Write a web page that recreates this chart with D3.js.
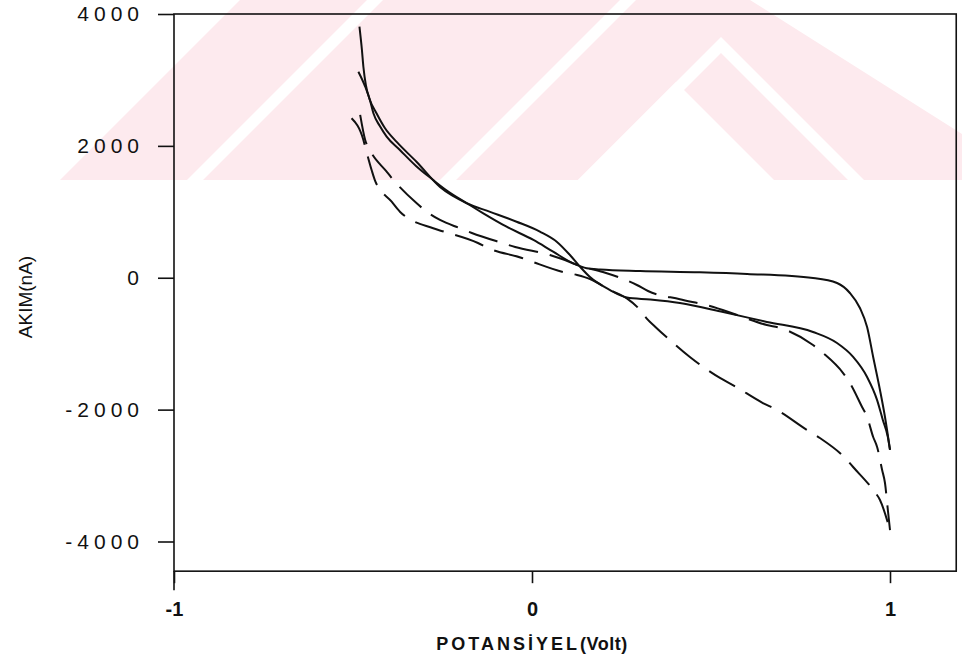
<!DOCTYPE html>
<html>
<head>
<meta charset="utf-8">
<script src="https://cdn.jsdelivr.net/npm/d3@7/dist/d3.min.js"></script>
<style>
  body { margin: 0; background: #fff; }
  svg { display: block; }
  text { font-family: "Liberation Sans", Arial, sans-serif; fill: #111; }
</style>
</head>
<body>
<div class="chart"></div>
<script>
// values: [potential (V), current (nA)]
const solidMid = [
  [-0.482, 3810], [-0.475, 3450], [-0.471, 3200], [-0.464, 2920], [-0.453, 2700],
  [-0.434, 2490], [-0.411, 2270], [-0.378, 2060], [-0.322, 1755], [-0.257, 1376],
  [-0.182, 1130], [-0.117, 1000], [-0.043, 850], [0.022, 700], [0.069, 547],
  [0.106, 345], [0.134, 168], [0.162, 10], [0.218, -186], [0.265, -300],
  [0.330, -330], [0.413, -383], [0.534, -520], [0.656, -670], [0.785, -823],
  [0.852, -990], [0.897, -1200], [0.936, -1505], [0.964, -1855], [0.980, -2157],
  [0.994, -2415], [1.0, -2610]
];
const solidFlat = [
  [-0.485, 3125], [-0.466, 2900], [-0.453, 2700], [-0.443, 2494], [-0.425, 2300],
  [-0.406, 2140], [-0.369, 1937], [-0.324, 1695], [-0.276, 1482], [-0.240, 1331],
  [-0.182, 1130], [-0.136, 977], [-0.071, 774], [0.004, 573], [0.059, 395],
  [0.115, 219], [0.153, 143], [0.190, 125], [0.302, 102], [0.469, 83],
  [0.601, 57], [0.785, -4], [0.852, -80], [0.888, -231], [0.916, -459],
  [0.936, -747], [0.953, -1202], [0.972, -1702], [0.986, -2112], [1.0, -2610]
];
const dashUpper = [
  [-0.480, 2470], [-0.466, 2090], [-0.453, 1937], [-0.406, 1608], [-0.387, 1482],
  [-0.322, 1129], [-0.294, 1002], [-0.257, 876], [-0.201, 750], [-0.168, 679],
  [-0.080, 522], [-0.047, 466], [0.050, 345], [0.084, 284], [0.134, 178],
  [0.198, 87], [0.293, -110], [0.324, -201], [0.413, -327], [0.497, -428],
  [0.573, -565], [0.656, -717], [0.693, -762], [0.785, -1020], [0.813, -1141],
  [0.869, -1445], [0.888, -1596], [0.922, -1960], [0.936, -2112], [0.953, -2415],
  [0.964, -2567], [0.978, -2916], [0.986, -3113], [0.994, -3522], [1.0, -3826]
];
const dashLower = [
  [-0.504, 2418], [-0.471, 2089], [-0.466, 1988], [-0.448, 1634], [-0.439, 1482],
  [-0.392, 1153], [-0.369, 1002], [-0.276, 750], [-0.243, 694], [-0.151, 527],
  [-0.123, 451], [-0.028, 300], [0.003, 239], [0.087, 87], [0.126, 42],
  [0.162, -19], [0.218, -186], [0.265, -312], [0.302, -489], [0.320, -615],
  [0.344, -742], [0.385, -944], [0.441, -1202], [0.525, -1520], [0.561, -1627],
  [0.645, -1900], [0.684, -2006], [0.768, -2309], [0.804, -2430], [0.880, -2764],
  [0.897, -2870], [0.953, -3219], [0.972, -3371], [1.0, -3826]
];

const xTicks = [-1, 0, 1];
const xTickLabels = ["-1", "0", "1"];
const yTicks = [4000, 2000, 0, -2000, -4000];
const yTickLabels = ["4000", "2000", "0", "-2000", "-4000"];

var width = 962,
  height = 663;

var svg = d3
  .select(".chart")
  .append("svg")
  .attr("width", width)
  .attr("height", height);

// faint pink thesis watermark behind the plot (decoration only)
var wm = svg.append("g");
wm.append("polygon")
  .attr("points", "60,180 240,0 962,0 962,180")
  .style("fill", "#fdeaee");
[
  "187,180 203,180 383,0 367,0",
  "440,180 456,180 636,0 620,0",
  "578,180 721,37 864,180 848,180 721,53 594,180",
  "578,180 676,82 774,180",
  "750,0 962,0 962,134"
].forEach(function (p) {
  wm.append("polygon").attr("points", p).style("fill", "#fff");
});

var x = d3.scaleLinear().domain([-1, 1]).range([174, 890]);
var y = d3.scaleLinear().domain([-4000, 4000]).range([541.5, 14]);

var xMax = 1.185,
  yMin = -4450;

// frame
svg
  .append("rect")
  .attr("x", x(-1))
  .attr("y", y(4000))
  .attr("width", x(xMax) - x(-1))
  .attr("height", y(yMin) - y(4000))
  .style("fill", "none")
  .style("stroke", "#111")
  .style("stroke-width", 1.6);

// left axis runs on below the frame as the -1 tick
svg
  .append("line")
  .attr("x1", x(-1))
  .attr("x2", x(-1))
  .attr("y1", y(yMin))
  .attr("y2", y(yMin) + 19)
  .style("stroke", "#111")
  .style("stroke-width", 1.6);

var yAxis = svg
  .append("g")
  .attr("transform", "translate(" + x(-1) + ",0)")
  .call(
    d3
      .axisLeft(y)
      .tickValues(yTicks)
      .tickFormat(function (d, i) {
        return yTickLabels[i];
      })
      .tickSize(16)
      .tickPadding(14)
  );
yAxis.select(".domain").remove();
yAxis.selectAll("line").style("stroke", "#111").style("stroke-width", 1.6);
yAxis
  .selectAll("text")
  .style("font-size", "21px")
  .style("letter-spacing", "5px")
  .style("fill", "#111");

var xAxis = svg
  .append("g")
  .attr("transform", "translate(0," + y(yMin) + ")")
  .call(
    d3
      .axisBottom(x)
      .tickValues(xTicks)
      .tickFormat(function (d, i) {
        return xTickLabels[i];
      })
      .tickSize(12)
      .tickPadding(19)
  );
xAxis.select(".domain").remove();
xAxis.selectAll("line").style("stroke", "#111").style("stroke-width", 1.6);
xAxis
  .selectAll("text")
  .style("font-size", "20px")
  .style("font-weight", "bold")
  .style("fill", "#111");

// axis titles
var xTitle = svg
  .append("text")
  .attr("x", x(0))
  .attr("y", 650)
  .attr("text-anchor", "middle")
  .style("font-size", "18px")
  .style("font-weight", "bold");
xTitle.append("tspan").style("letter-spacing", "3px").text("POTANSİYEL");
xTitle.append("tspan").style("letter-spacing", "0.5px").text("(Volt)");

svg
  .append("text")
  .attr("transform", "translate(25,297) rotate(-90)")
  .attr("text-anchor", "middle")
  .attr("dominant-baseline", "central")
  .style("font-size", "19px")
  .text("AKIM(nA)");

// curves
var line = d3
  .line()
  .x(function (d) {
    return x(d[0]);
  })
  .y(function (d) {
    return y(d[1]);
  })
  .curve(d3.curveMonotoneX);

var series = [
  { data: solidMid, dash: null },
  { data: solidFlat, dash: null },
  { data: dashUpper, dash: "30,12" },
  { data: dashLower, dash: "30,12" }
];

svg
  .selectAll("path.curve")
  .data(series)
  .enter()
  .append("path")
  .attr("class", "curve")
  .attr("d", function (d) {
    return line(d.data);
  })
  .style("fill", "none")
  .style("stroke", "#111")
  .style("stroke-width", 2)
  .style("stroke-dasharray", function (d) {
    return d.dash;
  });
</script>
</body>
</html>
